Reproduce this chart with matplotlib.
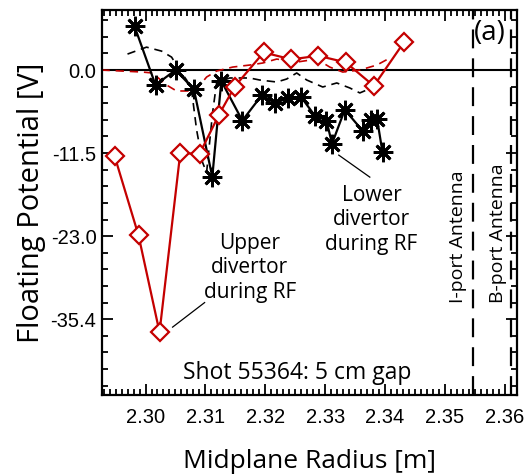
import matplotlib
matplotlib.use("Agg")
import matplotlib.pyplot as plt
from matplotlib.ticker import MultipleLocator, FixedLocator

# probe radius [m] and floating potential [V]
lower_r = [2.29816, 2.30167, 2.30502, 2.30808, 2.31115, 2.31266, 2.31617, 2.31945,
           2.32157, 2.32380, 2.32604, 2.32826, 2.33022, 2.33115, 2.33328, 2.33634,
           2.33758, 2.33868, 2.33958]
lower_vf = [6.07, -2.07, 0.0, -2.66, -14.8, -1.52, -7.0, -3.45, -4.6, -3.9, -3.8,
            -6.3, -7.0, -10.2, -5.5, -8.5, -6.9, -6.8, -11.4]

upper_r = [2.29482, 2.29883, 2.30234, 2.30580, 2.30903, 2.31226, 2.31488, 2.31973,
           2.32436, 2.32881, 2.33344, 2.33813, 2.34314]
upper_vf = [-11.87, -22.9, -36.3, -11.5, -11.6, -6.2, -2.3, 2.44, 1.47, 1.98, 1.06,
            -2.2, 3.82]

# reference profiles without RF
lower_ref_r = [2.29699, 2.30017, 2.30268, 2.30435, 2.30569, 2.30686, 2.30769, 2.30853,
               2.30953, 2.31020, 2.31120, 2.31187, 2.31405, 2.31739, 2.31906, 2.32191,
               2.32358, 2.32525, 2.32692, 2.32960, 2.33194, 2.33411, 2.33579, 2.33696,
               2.33796]
lower_ref_vf = [2.21, 3.17, 2.62, 1.79, 0.0, -1.38, -2.76, -8.28, -12.8, -14.2, -5.9,
                -1.8, -1.1, -1.1, -1.38, -1.66, -1.24, -0.41, -1.38, -2.35, -1.79,
                -2.48, -3.17, -2.76, -2.62]

upper_ref_r = [2.29264, 2.29950, 2.30117, 2.30351, 2.30518, 2.30736, 2.30870, 2.31020,
               2.31187, 2.31455, 2.31739, 2.31957, 2.32191, 2.32525, 2.32860, 2.33077,
               2.33294, 2.33579, 2.33863, 2.34080]
upper_ref_vf = [0.0, -0.28, -0.41, -2.07, -2.9, -2.9, -2.48, -0.97, -0.14, 0.41, 0.69,
                0.97, 1.52, 1.1, 1.52, 0.41, -0.28, 0.0, 0.69, 1.66]

antenna_r = [2.35473, 2.36099]
antenna_names = ["I-port Antenna", "B-port Antenna"]

ytick_pos = [0.0, -11.5, -23.0, -34.5]
ytick_lab = ["0.0", "-11.5", "-23.0", "-35.4"]
xtick_pos = [2.30, 2.31, 2.32, 2.33, 2.34, 2.35, 2.36]

RED = "#c40000"
label_font = ["Open Sans", "DejaVu Sans"]
tick_font = ["Liberation Sans", "DejaVu Sans"]

fig = plt.figure(figsize=(5.29, 4.75), dpi=100)
ax = fig.add_axes([0.1928, 0.1684, 0.7845, 0.8105])

ax.axhline(0.0, color="k", lw=1.5, zorder=1)
for r in antenna_r:
    ax.axvline(r, color="k", lw=1.6, dashes=(8.5, 4.5), zorder=1)

ax.plot(upper_ref_r, upper_ref_vf, color=RED, lw=1.2, dashes=(5, 3.5))
ax.plot(lower_ref_r, lower_ref_vf, color="k", lw=1.2, dashes=(5, 3.5))
ax.plot(lower_r, lower_vf, color="k", lw=1.6, marker=(8, 2, 0), ms=14, mew=2.0)
ax.plot(upper_r, upper_vf, color=RED, lw=1.6, marker="D", ms=9, mfc="white",
        mec=RED, mew=1.6)

ax.set_xlim(2.29273, 2.36204)
ax.set_ylim(-45.0, 8.31)

ax.xaxis.set_major_locator(FixedLocator(xtick_pos))
ax.xaxis.set_minor_locator(MultipleLocator(0.001))
ax.yaxis.set_major_locator(FixedLocator(ytick_pos))
ax.yaxis.set_minor_locator(MultipleLocator(11.5 / 5))
ax.set_yticklabels(ytick_lab)
ax.set_xticklabels([f"{v:.2f}" for v in xtick_pos])
ax.tick_params(which="both", direction="in", top=True, right=True, width=1.3)
ax.tick_params(which="major", length=8, labelsize=14.5)
ax.tick_params(axis="x", which="major", pad=9)
ax.tick_params(axis="y", which="major", pad=4)
ax.tick_params(which="minor", length=4)
for lab in ax.get_xticklabels() + ax.get_yticklabels():
    lab.set_family(tick_font)
for s in ax.spines.values():
    s.set_linewidth(1.6)

ax.set_xlabel("Midplane Radius [m]", family=label_font, fontsize=19, labelpad=16)
ax.set_ylabel("Floating Potential [V]", family=label_font, fontsize=21, labelpad=3)

# leader lines from the labels to the curves
ax.plot([2.33227, 2.33746], [-11.78, -14.83], color="k", lw=0.9)
ax.plot([2.30987, 2.30452], [-32.2, -35.6], color="k", lw=0.9)

ax.text(2.33774, -20.7, "Lower\ndivertor\nduring RF", ha="center", va="center",
        family=label_font, fontsize=15, linespacing=1.22)
ax.text(2.31739, -27.4, "Upper\ndivertor\nduring RF", ha="center", va="center",
        family=label_font, fontsize=15, linespacing=1.2)
ax.text(2.32525, -42.0, "Shot 55364: 5 cm gap", ha="center", va="center",
        family=label_font, fontsize=16.5)
ax.text(2.35753, 5.13, "(a)", ha="center", va="center", family=label_font, fontsize=20)
ax.text(2.35217, -23.1, antenna_names[0], rotation=90, ha="center", va="center",
        family=label_font, fontsize=14)
ax.text(2.35886, -22.6, antenna_names[1], rotation=90, ha="center", va="center",
        family=label_font, fontsize=14)

fig.savefig("out.png", dpi=100)
